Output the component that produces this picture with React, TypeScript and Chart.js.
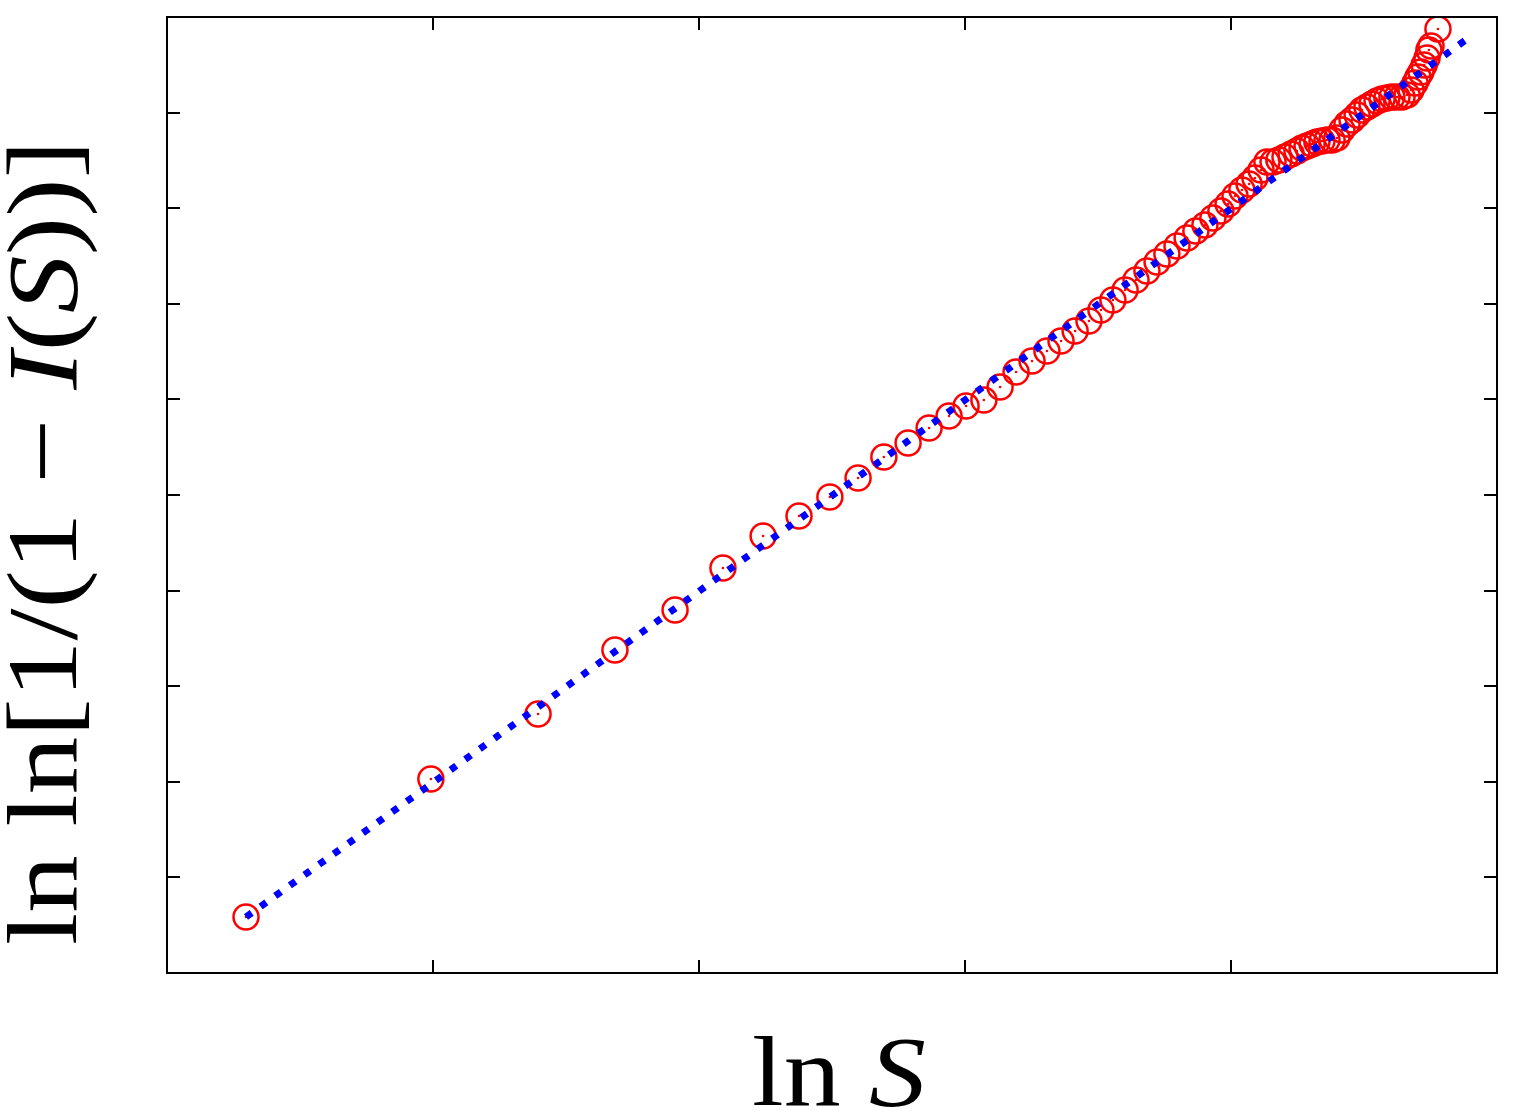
import React, { useEffect, useRef } from "react";
import { Chart, registerables } from "chart.js";

Chart.register(...registerables);

// Data (ln S, ln ln[1/(1 - I(S))])
const lnS: number[] = [
  0.297, 0.992, 1.395, 1.684, 1.91, 2.09, 2.241, 2.376, 2.492, 2.598,
  2.695, 2.786, 2.865, 2.94, 3.004, 3.071, 3.132, 3.192, 3.252, 3.308,
  3.361, 3.414, 3.466, 3.511, 3.556, 3.602, 3.643, 3.684, 3.722, 3.759,
  3.797, 3.835, 3.868, 3.902, 3.932, 3.962, 3.989, 4.015, 4.041, 4.068,
  4.09, 4.113, 4.135, 4.158, 4.18, 4.203, 4.226, 4.248, 4.267, 4.286,
  4.305, 4.323, 4.342, 4.361, 4.38, 4.398, 4.417, 4.436, 4.455, 4.474,
  4.492, 4.511, 4.53, 4.549, 4.568, 4.586, 4.605, 4.624, 4.643, 4.662,
  4.677, 4.692, 4.703, 4.714, 4.726, 4.737, 4.744, 4.752, 4.778,
];
const lnlnI: number[] = [
  0.586, 2.029, 2.709, 3.379, 3.797, 4.236, 4.571, 4.78, 4.979, 5.178,
  5.397, 5.544, 5.701, 5.826, 5.931, 5.994, 6.13, 6.287, 6.402, 6.506,
  6.611, 6.715, 6.82, 6.935, 7.04, 7.144, 7.249, 7.343, 7.437, 7.521,
  7.605, 7.688, 7.762, 7.824, 7.897, 7.971, 8.044, 8.128, 8.19, 8.253,
  8.316, 8.4, 8.483, 8.483, 8.504, 8.536, 8.567, 8.598, 8.63, 8.651,
  8.672, 8.692, 8.703, 8.713, 8.713, 8.734, 8.818, 8.881, 8.923, 8.975,
  9.027, 9.059, 9.09, 9.121, 9.142, 9.153, 9.163, 9.163, 9.163, 9.184,
  9.236, 9.31, 9.372, 9.425, 9.498, 9.571, 9.655, 9.697, 9.874,
];

// Linear fit
const fitX: number[] = [0.297, 4.898];
const fitY: number[] = [0.586, 9.791];

// Axis ranges and unlabeled ticks
const xRange: number[] = [0, 5];
const yRange: number[] = [0, 10];
const xTicks: number[] = [1, 2, 3, 4];
const yTicks: number[] = [1, 2, 3, 4, 5, 6, 7, 8, 9];

type Seg = { t: string; it: boolean };
const yTitle: Seg[] = [
  { t: "ln ln[1/(1 \u2212 ", it: false },
  { t: "I", it: true },
  { t: "(", it: false },
  { t: "S", it: true },
  { t: "))]", it: false },
];
const xTitle: Seg[] = [
  { t: "ln ", it: false },
  { t: "S", it: true },
];

const FAMILY = '"Liberation Serif", "Times New Roman", serif';

function drawSegs(
  ctx: CanvasRenderingContext2D,
  segs: Seg[],
  size: number,
  targetWidth: number
) {
  let total = 0;
  const widths: number[] = [];
  for (const s of segs) {
    ctx.font = `${s.it ? "italic " : ""}${size}px ${FAMILY}`;
    const w = ctx.measureText(s.t).width;
    widths.push(w);
    total += w;
  }
  const k = targetWidth / total;
  ctx.save();
  ctx.scale(k, 1);
  let x = 0;
  segs.forEach((s, i) => {
    ctx.font = `${s.it ? "italic " : ""}${size}px ${FAMILY}`;
    ctx.fillText(s.t, x, 0);
    x += widths[i];
  });
  ctx.restore();
}

const framePlugin = {
  id: "frame",
  afterDraw(chart: any) {
    const { ctx, chartArea: a, scales } = chart;
    const xs = scales.x;
    const ys = scales.y;
    ctx.save();
    ctx.strokeStyle = "#000";
    ctx.lineWidth = 2;
    ctx.strokeRect(a.left, a.top, a.right - a.left, a.bottom - a.top);
    const L = 13;
    ctx.beginPath();
    for (const v of xTicks) {
      const px = Math.round(xs.getPixelForValue(v));
      ctx.moveTo(px, a.bottom);
      ctx.lineTo(px, a.bottom - L);
      ctx.moveTo(px, a.top);
      ctx.lineTo(px, a.top + L);
    }
    for (const v of yTicks) {
      const py = Math.round(ys.getPixelForValue(v));
      ctx.moveTo(a.left, py);
      ctx.lineTo(a.left + L, py);
      ctx.moveTo(a.right, py);
      ctx.lineTo(a.right - L, py);
    }
    ctx.stroke();

    ctx.fillStyle = "#000";
    ctx.textBaseline = "alphabetic";
    ctx.textAlign = "left";
    // x title
    ctx.save();
    ctx.translate(752, 1105);
    drawSegs(ctx, xTitle, 100, 174);
    ctx.restore();
    // y title
    ctx.save();
    ctx.translate(76, 945);
    ctx.rotate(-Math.PI / 2);
    drawSegs(ctx, yTitle, 100, 805);
    ctx.restore();
    ctx.restore();
  },
};

export default function App() {
  const ref = useRef<HTMLCanvasElement | null>(null);
  useEffect(() => {
    if (!ref.current) return;
    const pts = lnS.map((x, i) => ({ x, y: lnlnI[i] }));
    const fit = fitX.map((x, i) => ({ x, y: fitY[i] }));
    const chart = new Chart(ref.current, {
      type: "scatter",
      data: {
        datasets: [
          {
            data: fit,
            showLine: true,
            borderColor: "#0000ff",
            borderWidth: 7,
            borderDash: [7, 11],
            borderCapStyle: "butt",
            pointRadius: 0,
            fill: false,
          },
          {
            data: pts,
            pointRadius: 1.3,
            pointBackgroundColor: "#ff0000",
            pointBorderWidth: 0,
            showLine: false,
          },
          {
            data: pts,
            pointStyle: "circle",
            pointRadius: 12.5,
            pointBorderWidth: 2.5,
            pointBorderColor: "#ff0000",
            pointBackgroundColor: "rgba(0,0,0,0)",
            showLine: false,
          },
        ],
      } as any,
      options: {
        responsive: false,
        animation: false,
        events: [],
        layout: { padding: { left: 167, right: 21, top: 17, bottom: 138 } },
        plugins: { legend: { display: false }, tooltip: { enabled: false } },
        scales: {
          x: { type: "linear", min: xRange[0], max: xRange[1], display: false },
          y: { type: "linear", min: yRange[0], max: yRange[1], display: false },
        },
      } as any,
      plugins: [framePlugin],
    });
    return () => chart.destroy();
  }, []);
  return (
    <div style={{ position: "absolute", left: 0, top: 0, width: 1518, height: 1111, background: "#fff" }}>
      <canvas ref={ref} width={1518} height={1111} style={{ display: "block" }} />
    </div>
  );
}
